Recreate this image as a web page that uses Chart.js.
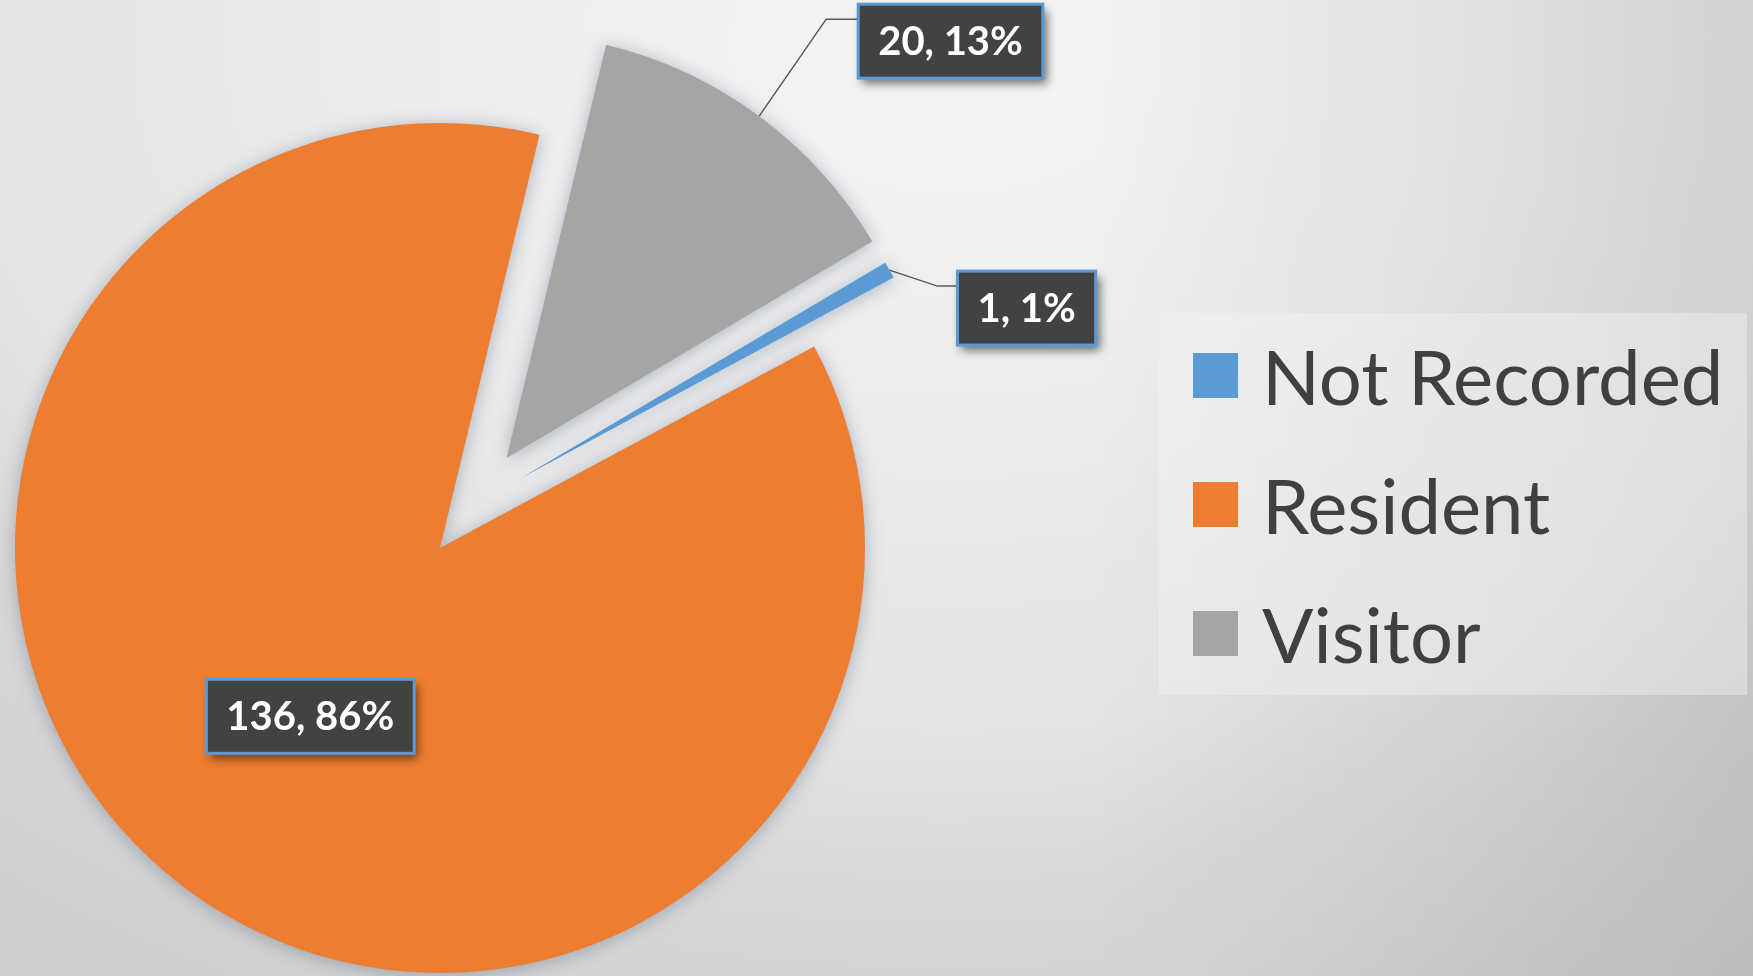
<!DOCTYPE html>
<html>
<head>
<meta charset="utf-8">
<title>Not Recorded / Resident / Visitor</title>
<script src="https://cdn.jsdelivr.net/npm/chart.js@4.4.1/dist/chart.umd.min.js"></script>
<style>
  html, body { margin: 0; padding: 0; width: 1753px; height: 976px; overflow: hidden; }
  body {
    position: relative;
    font-family: Lato, "Open Sans", sans-serif;
    background:
      linear-gradient(to right, rgba(0,0,0,0) 62%, rgba(0,0,0,0.09) 100%),
      radial-gradient(1300px 900px at 950px 40px, #f4f4f4 0%, #ececec 45%, #e3e3e3 77%, #d9d9d9 93%, #cecece 120%);
  }
  #chart { position: absolute; left: 0; top: 0; }
  #legend {
    position: absolute; left: 1159px; top: 313px; width: 588px; height: 382px;
    background: rgba(246, 246, 246, 0.4);
  }
  #legend ul { list-style: none; margin: 0; padding: 0; position: absolute; left: 34px; top: -2px; }
  #legend li { display: flex; align-items: center; height: 129px; font-size: 76px; color: #404040; white-space: nowrap; }
  #legend .swatch { width: 45px; height: 45px; margin-right: 24px; flex: none; }
</style>
</head>
<body>
<canvas id="chart" width="1753" height="976"></canvas>
<div id="legend"><ul></ul></div>

<script>
// data
const categories = ['Not Recorded', 'Resident', 'Visitor'];
const counts = [1, 136, 20];

// styling
const sliceColors = ['#5b9bd5', '#ed7d31', '#a5a5a5'];
const explode = [103, 0, 112];          // px each slice is pulled out
const explodeSide = [21, 0, 0];         // px sideways (towards the previous slice)
const pieRadius = 425;

// where the outside labels go, relative to the slice's outer edge
const callouts = [
	{ elbowX: 48, elbowY: 16, run: 20 },   // Not Recorded
	null,                                  // Resident, label sits inside
	{ elbowX: 67, elbowY: -97, run: 32 }   // Visitor
];

// Excel style percentages: rounded so they add up to 100
function roundedPercents( values ) {
	const total = values.reduce( ( a, b ) => a + b, 0 );
	const raw = values.map( v => v / total * 100 );
	const out = raw.map( Math.floor );
	let left = 100 - out.reduce( ( a, b ) => a + b, 0 );
	raw.map( ( r, i ) => [ r - Math.floor( r ), i ] )
		.sort( ( a, b ) => b[ 0 ] - a[ 0 ] )
		.forEach( ( [ , i ] ) => {
			if ( left > 0 ) { out[ i ] ++; left --; }
		} );
	return out;
}

function pieCenter( chart ) {
	const a = chart.chartArea;
	return { x: ( a.left + a.right ) / 2, y: ( a.top + a.bottom ) / 2 };
}

// where slice i's point ends up once it is pulled out
function sliceCenter( chart, arc, i ) {
	const c = pieCenter( chart );
	const mid = ( arc.startAngle + arc.endAngle ) / 2;
	const cos = Math.cos( mid ), sin = Math.sin( mid );
	return {
		x: c.x + cos * explode[ i ] + sin * explodeSide[ i ],
		y: c.y + sin * explode[ i ] - cos * explodeSide[ i ]
	};
}

// pull slices out (chart.js' own offset also narrows thin slices away),
// and put a soft shadow under the pie
const explodedPie = {
	id: 'explodedPie',
	beforeDatasetsDraw( chart ) {
		const ctx = chart.ctx;
		chart.getDatasetMeta( 0 ).data.forEach( ( arc, i ) => {
			const p = sliceCenter( chart, arc, i );
			arc.x = p.x;
			arc.y = p.y;
		} );
		ctx.save();
		ctx.shadowColor = 'rgba(70, 90, 120, 0.4)';
		ctx.shadowBlur = 18;
		ctx.shadowOffsetY = 2;
	},
	afterDatasetsDraw( chart ) {
		chart.ctx.restore();
	}
};

const calloutLabels = {
	id: 'calloutLabels',
	afterDatasetsDraw( chart ) {
		const ctx = chart.ctx;
		const meta = chart.getDatasetMeta( 0 );
		const base = meta.controller.outerRadius;
		const pct = roundedPercents( counts );

		meta.data.forEach( ( arc, i ) => {
			const mid = ( arc.startAngle + arc.endAngle ) / 2;
			const cos = Math.cos( mid ), sin = Math.sin( mid );
			const p = sliceCenter( chart, arc, i );
			const text = counts[ i ] + ', ' + pct[ i ] + '%';

			ctx.save();
			ctx.font = 'bold 40px Lato';
			const w = ctx.measureText( text ).width + 40;
			const h = 74;
			let bx, by;
			const c = callouts[ i ];
			if ( c ) {
				const ax = p.x + cos * base, ay = p.y + sin * base;
				const ex = ax + c.elbowX, ey = ay + c.elbowY;
				ctx.strokeStyle = '#595959';
				ctx.lineWidth = 1.5;
				ctx.beginPath();
				ctx.moveTo( ax, ay );
				ctx.lineTo( ex, ey );
				ctx.lineTo( ex + c.run, ey );
				ctx.stroke();
				bx = ex + c.run;
				by = ey - 15;
			} else {
				bx = p.x + cos * base * 0.5 - w / 2;
				by = p.y + sin * base * 0.5 - h / 2;
			}

			// box with drop shadow
			ctx.shadowColor = 'rgba(0, 0, 0, 0.55)';
			ctx.shadowBlur = 9;
			ctx.shadowOffsetX = 4;
			ctx.shadowOffsetY = 6;
			ctx.fillStyle = '#424242';
			ctx.fillRect( bx, by, w, h );
			ctx.shadowColor = 'transparent';
			ctx.strokeStyle = '#5b9bd5';
			ctx.lineWidth = 3;
			ctx.strokeRect( bx, by, w, h );

			ctx.fillStyle = '#ffffff';
			ctx.textAlign = 'center';
			ctx.textBaseline = 'middle';
			ctx.fillText( text, bx + w / 2, by + h / 2 + 1 );
			ctx.restore();
		} );
	}
};

// legend as plain html, built from the chart's own legend items
const htmlLegend = {
	id: 'htmlLegend',
	afterUpdate( chart ) {
		const list = document.querySelector( '#legend ul' );
		list.innerHTML = '';
		chart.options.plugins.legend.labels.generateLabels( chart ).forEach( item => {
			const li = document.createElement( 'li' );
			const box = document.createElement( 'span' );
			box.className = 'swatch';
			box.style.background = item.fillStyle;
			li.appendChild( box );
			li.appendChild( document.createTextNode( item.text ) );
			list.appendChild( li );
		} );
	}
};

new Chart( document.getElementById( 'chart' ), {
	type: 'pie',
	data: {
		labels: categories,
		datasets: [ {
			data: counts,
			backgroundColor: sliceColors,
			borderWidth: 0,
			clip: false
		} ]
	},
	options: {
		responsive: false,
		animation: false,
		rotation: 59.4,
		radius: pieRadius,
		layout: { padding: { left: 0, right: 873, top: 120, bottom: 0 } },
		events: [],
		plugins: {
			legend: { display: false },
			tooltip: { enabled: false }
		}
	},
	plugins: [ explodedPie, calloutLabels, htmlLegend ]
} );
</script>
</body>
</html>
